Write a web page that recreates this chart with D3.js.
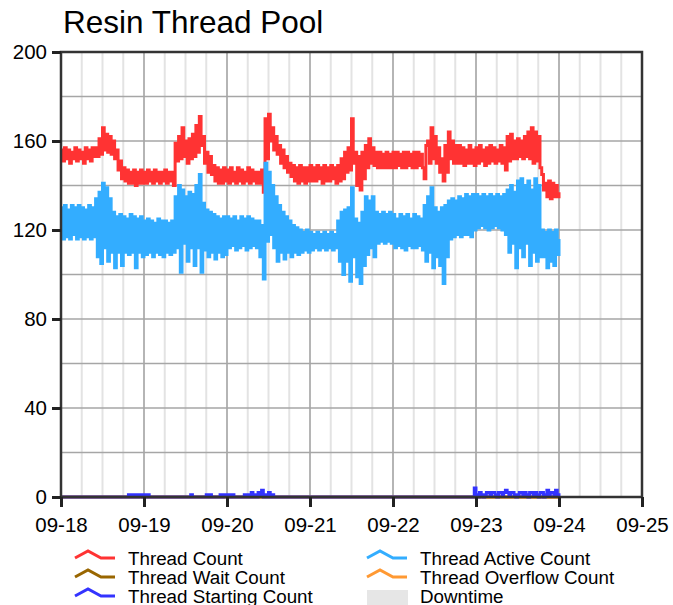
<!DOCTYPE html>
<html>
<head>
<meta charset="utf-8">
<script src="https://cdn.jsdelivr.net/npm/d3@7"></script>
<style>
    body { margin: 0; background: #fff; }
    text { font-family: "Liberation Sans", Arial, sans-serif; fill: #000; }
</style>
</head>
<body>
<div id="chart"></div>
<script>
// samples every 30 minutes, starting 09-18 00:00, one line per day
const startDay = new Date(2019, 8, 18);
const endDay = new Date(2019, 8, 25);
const stepMinutes = 30;

const threadCount = [
    156,151,157,152,156,150,155,152,157,151,156,152,155,150,157,152,156,151,157,153,157,153,161,154,166,156,163,155,162,154,160,152,156,147,151,143,148,142,147,141,146,141,147,140,146,141,147,141,
    146,141,147,142,146,141,147,142,146,141,146,142,147,141,146,142,146,140,159,151,162,152,166,153,160,150,161,152,163,153,167,155,171,158,162,150,155,146,153,145,149,142,148,141,147,141,148,142,
    147,141,148,142,146,141,148,142,147,141,146,142,148,141,147,142,146,141,146,141,147,137,170,152,172,160,166,156,162,154,158,150,156,148,153,146,150,144,149,142,148,141,149,142,148,141,148,142,
    149,142,148,142,149,143,148,141,149,142,148,142,149,143,148,141,149,142,152,143,155,146,157,147,170,150,155,140,153,138,155,143,158,148,161,150,157,149,155,148,155,148,154,148,155,148,154,148,
    155,148,155,149,154,148,155,148,155,149,154,148,155,148,155,149,154,148,143,158,160,150,166,152,162,150,157,146,152,142,158,146,164,152,160,150,158,150,158,150,157,149,156,150,158,150,156,149,
    157,150,158,151,156,149,157,150,158,151,157,150,156,151,158,150,157,147,162,151,163,152,160,152,161,153,160,152,162,153,164,152,166,150,164,151,162,148,145,138,141,135,142,134,141,135,140,135,
    137
];

const threadActiveCount = [
    130,116,131,117,129,116,131,118,130,116,131,117,130,116,129,117,131,116,130,117,134,108,137,105,141,112,139,106,134,110,128,103,126,110,127,104,126,110,125,109,127,110,126,103,125,110,126,108,
    124,109,125,110,124,108,123,110,125,109,124,108,124,110,123,109,124,110,135,112,140,101,138,114,135,106,137,112,136,104,140,112,145,101,132,111,129,108,128,110,127,107,126,110,125,108,126,109,
    126,112,125,113,126,111,124,112,126,113,125,111,126,112,125,113,124,112,124,108,122,98,150,115,146,118,140,112,135,106,131,110,128,107,126,110,124,108,122,110,121,109,120,110,119,111,120,110,
    119,111,118,112,119,111,118,112,119,111,118,112,119,111,118,112,124,106,128,100,129,106,130,97,139,108,125,99,123,96,128,104,135,109,133,112,135,108,128,114,127,115,128,114,127,115,128,114,
    127,112,125,113,127,112,126,111,127,113,125,112,127,112,126,113,125,111,131,106,135,110,139,103,130,108,128,104,130,96,131,108,133,116,134,117,133,118,135,117,134,118,136,118,135,117,136,120,
    136,121,135,122,136,121,135,120,136,121,135,122,136,121,135,120,136,118,138,110,140,114,137,103,142,112,143,108,140,114,142,104,138,110,143,106,140,108,120,108,119,103,120,106,119,104,120,109,
    116
];

const threadStartingCount = [
    0,0,0,0,0,0,0,0,0,0,0,0,0,0,0,0,0,0,0,0,0,0,0,0,0,0,0,0,0,0,0,0,0,0,0,0,0,0,0,1,0,1,0,1,0,1,1,0,
    1,0,1,0,0,0,0,0,0,0,0,0,0,0,0,0,0,0,0,0,0,0,0,0,0,0,0,1,0,0,0,0,0,0,0,0,1,0,1,0,0,0,0,0,1,0,1,1,
    0,1,0,1,0,0,0,0,0,0,1,0,1,0,2,0,1,0,2,1,3,0,1,0,2,0,1,0,0,0,0,0,0,0,0,0,0,0,0,0,0,0,0,0,0,0,0,0,
    0,0,0,0,0,0,0,0,0,0,0,0,0,0,0,0,0,0,0,0,0,0,0,0,0,0,0,0,0,0,0,0,0,0,0,0,0,0,0,0,0,0,0,0,0,0,0,0,
    0,0,0,0,0,0,0,0,0,0,0,0,0,0,0,0,0,0,0,0,0,0,0,0,0,0,0,0,0,0,0,0,0,0,0,0,0,0,0,0,0,0,0,0,0,0,0,4,
    1,0,2,1,0,1,2,2,1,2,2,1,0,2,2,1,2,3,2,1,2,2,1,0,1,2,2,1,2,1,0,2,2,1,2,1,0,2,2,0,1,3,1,2,2,1,3,1,
    0
];

// daily samples 09-18 .. 09-24
const threadWaitCount = [0, 0, 0, 0, 0, 0, 0];
const threadOverflowCount = [0, 0, 0, 0, 0, 0, 0];

const yTicks = [0, 40, 80, 120, 160, 200];

const width = 673;
const height = 605;
const margin = { top: 52, right: 31, bottom: 108, left: 61 };

const series = [
    { name: 'Thread Count', color: '#ff3333', values: threadCount, step: stepMinutes },
    { name: 'Thread Active Count', color: '#33adff', values: threadActiveCount, step: stepMinutes },
    { name: 'Thread Wait Count', color: '#996600', values: threadWaitCount, step: 1440 },
    { name: 'Thread Overflow Count', color: '#ff9933', values: threadOverflowCount, step: 1440 },
    { name: 'Thread Starting Count', color: '#3333ff', values: threadStartingCount, step: stepMinutes },
];

const svg = d3
    .select('#chart')
    .append('svg')
    .attr('width', width)
    .attr('height', height);

const x = d3
    .scaleTime()
    .domain([startDay, endDay])
    .range([margin.left, width - margin.right]);
const y = d3
    .scaleLinear()
    .domain([0, 200])
    .range([height - margin.bottom, margin.top]);

// title
svg.append('text')
    .attr('x', 63)
    .attr('y', 33)
    .style('font-size', '31.5px')
    .text('Resin Thread Pool');

// grid
const grid = svg.append('g');
grid.selectAll('.minor')
    .data(d3.timeHour.every(6).range(startDay, endDay))
    .join('line')
    .attr('x1', d => x(d))
    .attr('x2', d => x(d))
    .attr('y1', y(200))
    .attr('y2', y(0))
    .attr('stroke', '#e3e3e3')
    .attr('stroke-width', 2);
grid.selectAll('.major')
    .data(d3.timeDay.range(startDay, endDay))
    .join('line')
    .attr('x1', d => x(d))
    .attr('x2', d => x(d))
    .attr('y1', y(200))
    .attr('y2', y(0))
    .attr('stroke', '#a6a6a6')
    .attr('stroke-width', 1.5);
grid.selectAll('.hgrid')
    .data(y.ticks(10))
    .join('line')
    .attr('x1', x(startDay))
    .attr('x2', x(endDay))
    .attr('y1', d => y(d))
    .attr('y2', d => y(d))
    .attr('stroke', '#a6a6a6')
    .attr('stroke-width', 1.5);

// lines
const lines = svg.append('g').attr('fill', 'none');
series.forEach(s => {
    const line = d3
        .line()
        .x((d, i) => x(d3.timeMinute.offset(startDay, i * s.step)))
        .y(d => y(d))
        .curve(d3.curveStepAfter);
    lines.append('path')
        .datum(s.values)
        .attr('d', line)
        .attr('stroke', s.color)
        .attr('stroke-width', 3);
});

// frame
svg.append('rect')
    .attr('x', x(startDay))
    .attr('y', y(200))
    .attr('width', x(endDay) - x(startDay))
    .attr('height', y(0) - y(200))
    .attr('fill', 'none')
    .attr('stroke', '#333')
    .attr('stroke-width', 2.5);

// axes
const xAxis = svg
    .append('g')
    .attr('transform', `translate(0,${y(0)})`)
    .call(
        d3.axisBottom(x)
            .ticks(d3.timeDay.every(1))
            .tickFormat(d3.timeFormat('%m-%d'))
            .tickSize(10)
            .tickPadding(10)
    );
const yAxis = svg
    .append('g')
    .attr('transform', `translate(${x(startDay)},0)`)
    .call(d3.axisLeft(y).tickValues(yTicks).tickSize(9).tickPadding(5));

[xAxis, yAxis].forEach(a => {
    a.select('.domain').remove();
    a.selectAll('.tick line').attr('stroke', '#222').attr('stroke-width', 3);
    a.selectAll('.tick text')
        .style('font-size', '20.5px')
        .style('font-family', '"Liberation Sans", Arial, sans-serif')
        .attr('fill', '#000');
});

// legend
const legendItems = [
    { name: 'Thread Count', color: '#ff3333', col: 0, row: 0 },
    { name: 'Thread Wait Count', color: '#996600', col: 0, row: 1 },
    { name: 'Thread Starting Count', color: '#3333ff', col: 0, row: 2 },
    { name: 'Thread Active Count', color: '#33adff', col: 1, row: 0 },
    { name: 'Thread Overflow Count', color: '#ff9933', col: 1, row: 1 },
    { name: 'Downtime', color: '#e6e6e6', col: 1, row: 2, box: true },
];
const legendX = [75, 367];
const legendY = [558, 577, 596];

const legend = svg.append('g');
legendItems.forEach(d => {
    const lx = legendX[d.col];
    const ly = legendY[d.row];
    if (d.box) {
        legend.append('rect')
            .attr('x', lx)
            .attr('y', ly - 6)
            .attr('width', 41)
            .attr('height', 15)
            .attr('fill', d.color);
    } else {
        legend.append('path')
            .attr('d', `M${lx},${ly} L${lx + 13},${ly - 7} L${lx + 26},${ly} L${lx + 40},${ly}`)
            .attr('fill', 'none')
            .attr('stroke', d.color)
            .attr('stroke-width', 3);
    }
    legend.append('text')
        .attr('x', lx + 53)
        .attr('y', ly + 6.5)
        .style('font-size', '18.8px')
        .text(d.name);
});
</script>
</body>
</html>
